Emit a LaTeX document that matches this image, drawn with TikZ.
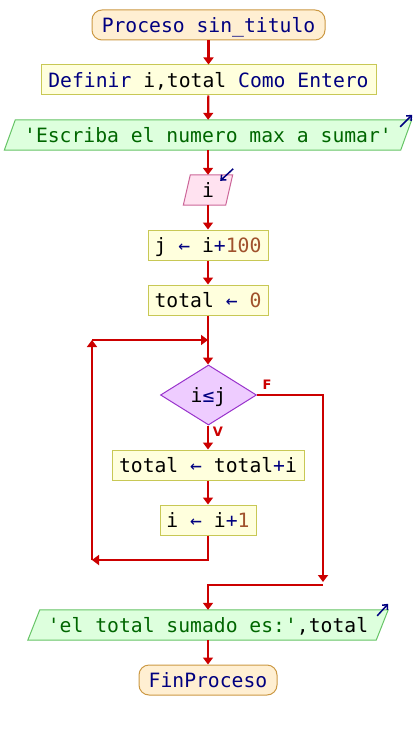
\documentclass[tikz,border=0pt]{standalone}
\usepackage{fontspec}
\setmonofont{DejaVu Sans Mono}
\newfontfamily\labfont{DejaVu Sans}
\usetikzlibrary{arrows.meta,shapes.geometric,backgrounds,calc}
\definecolor{navy}{HTML}{000080}
\definecolor{num}{HTML}{A0522D}
\definecolor{flow}{HTML}{CC0000}
\definecolor{procfill}{HTML}{FFEFD2}
\definecolor{procdraw}{HTML}{CC9944}
\definecolor{asgfill}{HTML}{FFFFDD}
\definecolor{asgdraw}{HTML}{C8C855}
\definecolor{iofill}{HTML}{DDFFDD}
\definecolor{iodraw}{HTML}{66C466}
\definecolor{iotext}{HTML}{006600}
\definecolor{infill}{HTML}{FFE2F0}
\definecolor{indraw}{HTML}{CC6699}
\definecolor{decfill}{HTML}{EECCFF}
\definecolor{decdraw}{HTML}{9933CC}
\tikzset{
  txt/.style={font=\ttfamily\fontsize{19.7}{20}\selectfont, text height=14.4pt, text depth=0pt, inner sep=0pt, align=center},
  term/.style={txt, draw=procdraw, fill=procfill, rounded corners=10pt, minimum height=30pt, line width=1pt, text=navy},
  asg/.style={txt, draw=asgdraw, fill=asgfill, minimum height=30pt, line width=1pt},
  iobox/.style={txt, minimum height=30pt},
  ioshape/.style={draw=iodraw, fill=iofill, line width=1pt},
  inshape/.style={draw=indraw, fill=infill, line width=1pt},
  dec/.style={txt, shape=diamond, draw=decdraw, fill=decfill, minimum width=96pt, minimum height=60pt, line width=1pt},
  conn/.style={draw=flow, line width=2.2pt, -{Triangle[width=10pt,length=7pt]}},
  iomark/.style={draw=navy, line width=1.5pt, -{Straight Barb[length=4pt,width=7pt]}},
  lab/.style={font=\labfont\bfseries\fontsize{13}{13}\selectfont, text=flow, inner sep=0pt},
}
\begin{document}
\begin{tikzpicture}[x=1pt,y=-1pt]
\useasboundingbox (0,0) rectangle (416,730);

\node[term, minimum width=233pt] (proc) at (208.5,25) {Proceso sin\_titulo};
\node[asg, minimum width=335pt] (def) at (208.5,80) {\color{navy}Definir \color{black}i,total \color{navy}Como Entero};
\node[iobox, minimum width=396pt, text=iotext] (esc) at (208,135) {'Escriba el numero max a sumar'};
\node[iobox, minimum width=42pt] (ib) at (208,190) {i};
\node[asg, minimum width=120pt] (jb) at (208,245) {j \color{navy}← \color{black}i\color{navy}+\color{num}100};
\node[asg, minimum width=120pt] (tot) at (208,300) {total \color{navy}← \color{num}0};
\node[dec] (dc) at (208.5,395) {i\color{navy}≤\color{black}j};
\node[asg, minimum width=192pt] (sum) at (208,465) {total \color{navy}← \color{black}total\color{navy}+\color{black}i};
\node[asg, minimum width=96pt] (inc) at (208,520) {i \color{navy}← \color{black}i\color{navy}+\color{num}1};
\node[iobox, minimum width=348pt] (out) at (208,625) {\color{iotext}'el total sumado es:'\color{black},total};
\node[term, minimum width=138pt] (fin) at (208,680) {FinProceso};

\node[lab] (lf) at (267,385) {F};
\node[lab] (lv) at (218,432) {V};

\begin{scope}[on background layer]
\fill[white] (0,0) rectangle (416,730);
\draw[ioshape] ([xshift=5.5pt]esc.north west) -- ([xshift=5.5pt]esc.north east) -- ([xshift=-5.5pt]esc.south east) -- ([xshift=-5.5pt]esc.south west) -- cycle;
\draw[inshape] ([xshift=3.5pt]ib.north west) -- ([xshift=3.5pt]ib.north east) -- ([xshift=-3.5pt]ib.south east) -- ([xshift=-3.5pt]ib.south west) -- cycle;
\draw[ioshape] ([xshift=6pt]out.north west) -- ([xshift=6pt]out.north east) -- ([xshift=-6pt]out.south east) -- ([xshift=-6pt]out.south west) -- cycle;
\end{scope}

\draw[iomark] ($(esc.north east)+(-6,7)$) -- ($(esc.north east)+(6,-5)$);
\draw[iomark] ($(ib.north east)+(4,-6)$) -- ($(ib.north east)+(-9,6)$);
\draw[iomark] ($(out.north east)+(-5,6)$) -- ($(out.north east)+(6,-6)$);

\coordinate (lb) at (92,560);
\coordinate (lt) at (92,340);
\coordinate (lm) at (208,340);
\coordinate (fb) at (323,582);
\coordinate (fj) at (323,585);

\draw[conn] (proc) -- (def);
\draw[conn] (def) -- (esc);
\draw[conn] (esc) -- (ib);
\draw[conn] (ib) -- (jb);
\draw[conn] (jb) -- (tot);
\draw[conn] (tot) -- (tot |- dc.north);
\draw[conn] (dc.south -| sum.north) -- (sum);
\draw[conn] (sum) -- (inc);
\draw[conn] (inc.south) |- (lb);
\draw[conn] (lb) -- (lt);
\draw[conn] (lt) -- (lm);
\draw[conn] (dc.east) -| (fb);
\draw[conn] (fj) -| (out.north);
\draw[conn] (out) -- (fin);
\end{tikzpicture}
\end{document}
